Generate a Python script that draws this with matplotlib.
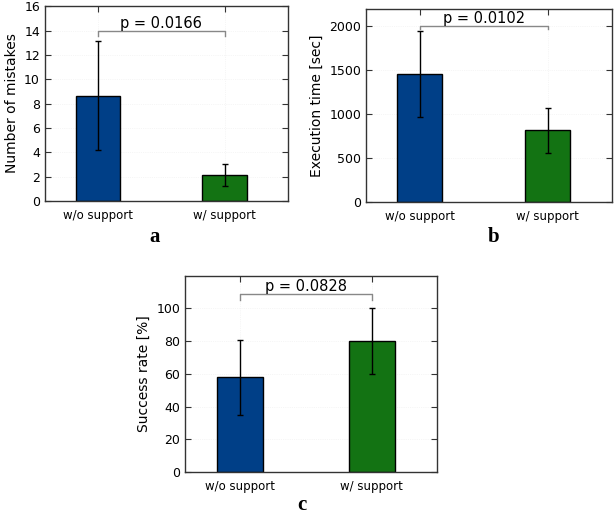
import matplotlib
matplotlib.use("Agg")
import matplotlib.pyplot as plt
import numpy as np

groups = ["w/o support", "w/ support"]
colors = ["#003f87", "#137313"]

mistakes = [8.65, 2.15]
mistakes_err = [4.45, 0.9]
exec_time = [1455, 815]
exec_time_err = [490, 260]
success = [58, 80.3]
success_err = [23, 20.2]

panels = [
    dict(vals=mistakes, err=mistakes_err, ylabel="Number of mistakes", ylim=(0, 16),
         yticks=np.arange(0, 17, 2), p="p = 0.0166", bracket=14.0, leg=0.45,
         rect=[0.073, 0.610, 0.395, 0.378], letter="a", lx=0.252, ly=0.540),
    dict(vals=exec_time, err=exec_time_err, ylabel="Execution time [sec]", ylim=(0, 2200),
         yticks=np.arange(0, 2001, 500), p="p = 0.0102", bracket=2000, leg=30,
         rect=[0.595, 0.608, 0.400, 0.375], letter="b", lx=0.803, ly=0.540),
    dict(vals=success, err=success_err, ylabel="Success rate [%]", ylim=(0, 120),
         yticks=np.arange(0, 101, 20), p="p = 0.0828", bracket=109, leg=4,
         rect=[0.301, 0.0835, 0.410, 0.381], letter="c", lx=0.491, ly=0.019),
]

fig = plt.figure(figsize=(6.15, 5.15), dpi=100)
x = np.arange(len(groups))

for pn in panels:
    ax = fig.add_axes(pn["rect"])
    ax.bar(x, pn["vals"], 0.35, color=colors, edgecolor="black", linewidth=1.0,
           yerr=pn["err"], error_kw=dict(ecolor="black", elinewidth=1.0, capsize=2, capthick=1.0))
    ax.set_xlim(-0.42, 1.5)
    ax.set_ylim(*pn["ylim"])
    ax.set_yticks(pn["yticks"])
    ax.set_xticks(x)
    ax.set_xticklabels(groups, fontsize=8.5)
    ax.tick_params(axis="y", labelsize=9)
    ax.tick_params(axis="x", pad=6)
    ax.tick_params(direction="in", top=True, right=True, length=4, width=0.8, color="#333333")
    for s in ax.spines.values():
        s.set_color("#333333")
        s.set_linewidth(1.0)
    ax.set_ylabel(pn["ylabel"], fontsize=10)
    ax.grid(True, linestyle=":", color="#eeeeee", linewidth=0.5)
    ax.set_axisbelow(True)
    # significance bracket
    b = pn["bracket"]
    ax.plot([x[0], x[0], x[1], x[1]], [b - pn["leg"], b, b, b - pn["leg"]],
            color="#888888", linewidth=1.0, clip_on=False)
    ax.text((x[0] + x[1]) / 2, b, pn["p"], ha="center", va="bottom", fontsize=10.5)
    fig.text(pn["lx"], pn["ly"], pn["letter"], ha="center", va="center",
             fontsize=15, fontweight="bold", family="Liberation Serif")

fig.savefig("out.png", dpi=100)
